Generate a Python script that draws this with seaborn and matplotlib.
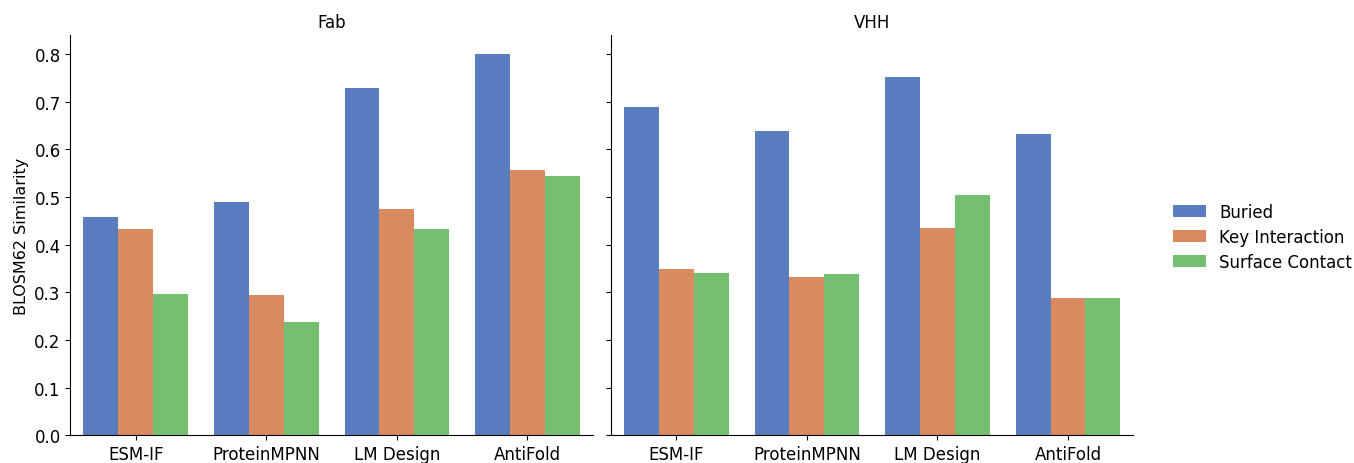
import pandas as pd
import seaborn as sns
import matplotlib.pyplot as plt

methods = ["ESM-IF", "ProteinMPNN", "LM Design", "AntiFold"]
regions = ["Buried", "Key Interaction", "Surface Contact"]
panels = ["Fab", "VHH"]

# values per method, in region order (Buried, Key Interaction, Surface Contact)
fab_values = {
    "ESM-IF": [0.459, 0.432, 0.296],
    "ProteinMPNN": [0.490, 0.295, 0.238],
    "LM Design": [0.730, 0.475, 0.434],
    "AntiFold": [0.800, 0.557, 0.545],
}
vhh_values = {
    "ESM-IF": [0.689, 0.349, 0.341],
    "ProteinMPNN": [0.638, 0.333, 0.338],
    "LM Design": [0.753, 0.435, 0.504],
    "AntiFold": [0.632, 0.288, 0.289],
}

rows = []
for panel, vals in zip(panels, [fab_values, vhh_values]):
    for m in methods:
        for r, v in zip(regions, vals[m]):
            rows.append({"type": panel, "method": m, "region": r, "similarity": v})
df = pd.DataFrame(rows)

sns.set_style("ticks", {"text.color": "black", "axes.labelcolor": "black",
                        "xtick.color": "black", "ytick.color": "black",
                        "axes.edgecolor": "black"})
plt.rcParams['font.family'] = ['DejaVu Sans']

g = sns.catplot(data=df, kind="bar", x="method", y="similarity", hue="region",
                col="type", col_order=panels, order=methods, hue_order=regions,
                palette="muted", errorbar=None, linewidth=0,
                height=4.64, aspect=1.35)
g.set_titles("{col_name}")
g.set_axis_labels("", "BLOSM62 Similarity")
g.legend.set_title(None)
for ax in g.axes.flat:
    ax.tick_params(labelsize=12)
    ax.title.set_fontsize(12)
    ax.yaxis.label.set_fontsize(11.5)

g.figure.set_size_inches(13.54, 4.64)
g.figure.subplots_adjust(left=0.052, right=0.837, bottom=0.06, top=0.922, wspace=0.035)
sns.move_legend(g, "center left", bbox_to_anchor=(0.855, 0.488), frameon=False,
                fontsize=12, handlelength=2.0, labelspacing=0.42)

g.figure.savefig("out.png", dpi=100)
